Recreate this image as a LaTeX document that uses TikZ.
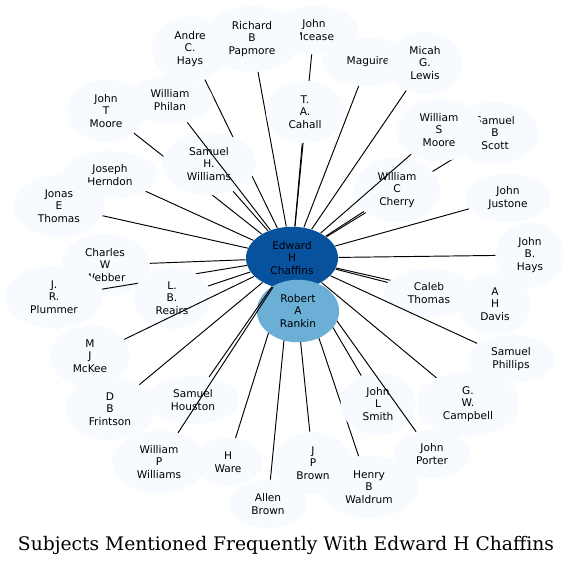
\documentclass[tikz,border=0pt]{standalone}
\usepackage{fontspec}
\setmainfont{DejaVu Serif}
\newfontfamily\labelfont{DejaVu Sans}
\usepackage{xcolor}
\usepackage{tikz}
\usetikzlibrary{shapes.geometric}
\definecolor{palefill}{HTML}{F7FBFF}
\definecolor{hubblue}{HTML}{08519C}
\definecolor{midblue}{HTML}{6BAED6}

\begin{document}
\begin{tikzpicture}[x=1pt, y=-1pt, line width=0.95pt,
    subj/.style={ellipse, fill=palefill, inner xsep=11pt, inner ysep=5.5pt, minimum height=48pt,
                 align=center, font=\labelfont\fontsize{10.6}{12.5}\selectfont},
    hub/.style={subj, fill=hubblue},
    second/.style={subj, fill=midblue}]
  \useasboundingbox (0,0) rectangle (572,566);
  \node[hub] (ehc) at (292,258) {Edward\\H\\Chaffins};
  \node[subj] (jmc) at (314,30) {John\\Mcease};
  \draw (ehc) -- (jmc);
  \node[subj] (rbp) at (252,39) {Richard\\B\\Papmore};
  \draw (ehc) -- (rbp);
  \node[subj] (ach) at (190,49) {Andre\\C.\\Hays};
  \draw (ehc) -- (ach);
  \node[subj] (jtm) at (106,111) {John\\T\\Moore};
  \draw (ehc) -- (jtm);
  \node[subj] (shw) at (209,164) {Samuel\\H.\\Williams};
  \draw (ehc) -- (shw);
  \node[subj] (wph) at (170,100) {William\\Philan};
  \draw (ehc) -- (wph);
  \node[subj] (jhe) at (110,175) {Joseph\\Herndon};
  \draw (ehc) -- (jhe);
  \node[subj] (jet) at (59,206) {Jonas\\E\\Thomas};
  \draw (ehc) -- (jet);
  \node[subj] (cww) at (105,265) {Charles\\W\\Webber};
  \draw (ehc) -- (cww);
  \node[subj] (jrp) at (54,297) {J.\\R.\\Plummer};
  \draw (ehc) -- (jrp);
  \node[subj] (lbr) at (172,298) {L.\\B.\\Reairs};
  \draw (ehc) -- (lbr);
  \node[subj] (mjm) at (90,356) {M\\J\\McKee};
  \draw (ehc) -- (mjm);
  \node[subj] (dbf) at (110,409) {D\\B\\Frintson};
  \draw (ehc) -- (dbf);
  \node[subj] (tac) at (305,112) {T.\\A.\\Cahall};
  \draw (ehc) -- (tac);
  \node[subj] (mag) at (368,62) {Maguire};
  \draw (ehc) -- (mag);
  \node[subj] (mgl) at (425,63) {Micah\\G.\\Lewis};
  \draw (ehc) -- (mgl);
  \node[subj] (sbs) at (495,133) {Samuel\\B\\Scott};
  \draw (ehc) -- (sbs);
  \node[subj] (wcc) at (397,190) {William\\C\\Cherry};
  \draw (ehc) -- (wcc);
  \node[subj] (wsm) at (439,130) {William\\S\\Moore};
  \draw (ehc) -- (wsm);
  \node[subj] (jju) at (508,198) {John\\Justone};
  \draw (ehc) -- (jju);
  \node[subj] (jbh) at (530,255) {John\\B.\\Hays};
  \draw (ehc) -- (jbh);
  \node[subj] (ahd) at (495,304) {A\\H\\Davis};
  \draw (ehc) -- (ahd);
  \node[subj] (cth) at (429,293) {Caleb\\Thomas};
  \draw (ehc) -- (cth);
  \node[subj] (sph) at (511,359) {Samuel\\Phillips};
  \draw (ehc) -- (sph);
  \node[subj] (gwc) at (468,404) {G.\\W.\\Campbell};
  \draw (ehc) -- (gwc);
  \node[subj] (hbw) at (369,487) {Henry\\B\\Waldrum};
  \draw (ehc) -- (hbw);
  \node[subj] (jls) at (378,404) {John\\L\\Smith};
  \draw (ehc) -- (jls);
  \node[subj] (jpo) at (432,454) {John\\Porter};
  \draw (ehc) -- (jpo);
  \node[subj] (jpb) at (313,463) {J\\P\\Brown};
  \draw (ehc) -- (jpb);
  \node[subj] (abr) at (268,504) {Allen\\Brown};
  \draw (ehc) -- (abr);
  \node[subj] (hwa) at (228,462) {H\\Ware};
  \draw (ehc) -- (hwa);
  \node[second] (rar) at (298,311) {Robert\\A\\Rankin};
  \node[subj] (sho) at (193,400) {Samuel\\Houston};
  \draw (ehc) -- (sho);
  \node[subj] (wpw) at (159,462) {William\\P\\Williams};
  \draw (ehc) -- (wpw);
  \node (caption) at (286,545) {\fontsize{18.7}{20}\selectfont Subjects Mentioned Frequently With Edward H Chaffins};
\end{tikzpicture}
\end{document}
